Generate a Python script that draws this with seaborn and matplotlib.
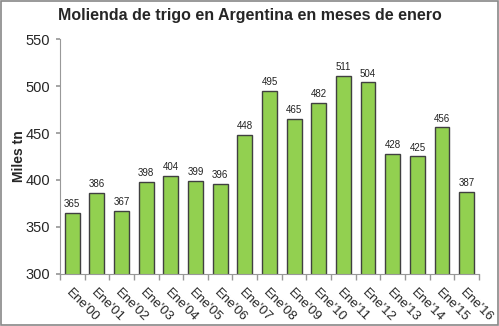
import matplotlib
matplotlib.use("Agg")
import matplotlib.pyplot as plt
import seaborn as sns
import pandas as pd

categories = ["Ene'00", "Ene'01", "Ene'02", "Ene'03", "Ene'04", "Ene'05", "Ene'06", "Ene'07",
              "Ene'08", "Ene'09", "Ene'10", "Ene'11", "Ene'12", "Ene'13", "Ene'14", "Ene'15", "Ene'16"]
values = [365, 386, 367, 398, 404, 399, 396, 448, 495, 465, 482, 511, 504, 428, 425, 456, 387]
yticks = [300, 350, 400, 450, 500, 550]

sns.set_theme(style="white")
plt.rcParams['font.family'] = ['Liberation Sans', 'DejaVu Sans']

df = pd.DataFrame({"cat": categories, "val": values})
fig = plt.figure(figsize=(4.99, 3.26), dpi=100)
ax = fig.add_axes([0.120, 0.160, 0.840, 0.720])
sns.barplot(data=df, x="cat", y="val", color="#92D050", width=0.6, edgecolor="#404040",
            linewidth=1.0, saturation=1, ax=ax)
ax.set_ylim(300, 550)
ax.set_xlim(-0.5, len(categories) - 0.5)
ax.set_yticks(yticks)
ax.set_yticklabels([str(t) for t in yticks], fontsize=10.5)
ax.set_xticks(range(len(categories)))
ax.set_xticklabels(categories, rotation=-45, ha='left', va='top', rotation_mode='anchor', fontsize=9.5)
for i, v in enumerate(values):
    ax.text(i, v + 4, str(v), ha='center', va='bottom', fontsize=7, color='#222222')
ax.set_xlabel("")
ax.set_ylabel("Miles tn", fontsize=10, fontweight='bold')
ax.yaxis.set_label_coords(-0.08, 0.5)
for s in ['top', 'right']:
    ax.spines[s].set_visible(False)
for s in ['left', 'bottom']:
    ax.spines[s].set_color('#999999')
    ax.spines[s].set_linewidth(0.8)
ax.tick_params(axis='y', left=True, length=3, color='#999999', pad=4)
ax.tick_params(axis='x', bottom=False, pad=3)
ax.set_xticks([i + 0.5 for i in range(-1, len(categories))], minor=True)
ax.tick_params(axis='x', which='minor', bottom=True, length=4, color='#999999')
fig.suptitle("Molienda de trigo en Argentina en meses de enero", y=0.975, fontsize=11.5, fontweight='bold')
fig.patches.append(plt.Rectangle((0.002, 0.003), 0.995, 0.994, transform=fig.transFigure,
                                 fill=False, edgecolor='#888888', linewidth=1.2))
fig.savefig("out.png", dpi=100)
